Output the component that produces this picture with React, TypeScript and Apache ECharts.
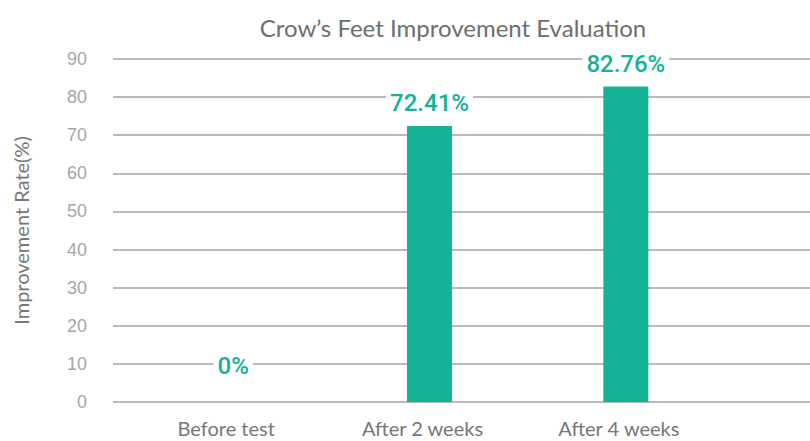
import React, { useEffect, useRef } from "react";
import * as echarts from "echarts";

const categories = ["Before test", "After 2 weeks", "After 4 weeks"];
const values = [0, 72.41, 82.76];
const labels = ["0%", "72.41%", "82.76%"];
const yTicks = [0, 10, 20, 30, 40, 50, 60, 70, 80, 90];

export default function App() {
  const ref = useRef<HTMLDivElement>(null);
  useEffect(() => {
    document.body.style.margin = "0";
    const chart = echarts.init(ref.current!, null, { renderer: "svg" });
    const green = "#14b396";
    chart.setOption({
      animation: false,
      backgroundColor: "#ffffff",
      title: {
        text: "Crow\u2019s Feet Improvement Evaluation",
        left: 448,
        textAlign: "center",
        top: 10,
        textStyle: { fontFamily: "Lato", fontSize: 24, fontWeight: "normal", color: "#6e6e6e" },
      },
      grid: [
        { left: 113, right: 0, top: 59, bottom: 39 },
        { left: 135, width: 589, top: 59, bottom: 39 },
      ],
      xAxis: [
        { gridIndex: 0, type: "value", show: false, min: 0, max: 1 },
        {
          gridIndex: 1,
          type: "category",
          data: categories,
          axisLine: { show: false },
          axisTick: { show: false },
          axisLabel: {
            margin: 16,
            fontFamily: "Lato",
            fontSize: 20,
            color: "#777777",
            padding: [0, 14, 0, 0],
          },
        },
      ],
      yAxis: [
        {
          gridIndex: 0,
          type: "value",
          min: yTicks[0],
          max: yTicks[yTicks.length - 1],
          interval: 10,
          name: "Improvement Rate(%)",
          nameLocation: "middle",
          nameGap: 82,
          nameRotate: 90,
          nameTextStyle: { fontFamily: "Lato", fontSize: 20, color: "#777777" },
          axisLine: { show: false },
          axisTick: { show: false },
          axisLabel: { margin: 26, fontFamily: "Liberation Sans", fontSize: 18, color: "#a6a6a6" },
          splitLine: { lineStyle: { color: "#a3a3a3", width: 1.5 } },
        },
        {
          gridIndex: 1,
          type: "value",
          min: yTicks[0],
          max: yTicks[yTicks.length - 1],
          interval: 10,
          show: false,
          splitLine: { show: false },
        },
      ],
      series: [
        {
          type: "bar",
          xAxisIndex: 1,
          yAxisIndex: 1,
          barWidth: 45,
          itemStyle: { color: green },
          data: values.map((v, i) => ({
            value: v,
            label: { formatter: labels[i], distance: v === 0 ? 24 : 11 },
          })),
          label: {
            show: true,
            position: "top",
            fontFamily: "Roboto",
            fontWeight: 500,
            fontSize: 24,
            lineHeight: 24,
            color: green,
            backgroundColor: "#ffffff",
            padding: [0, 4],
          },
        },
      ],
    });
    return () => chart.dispose();
  }, []);
  return <div ref={ref} style={{ width: 810, height: 441 }} />;
}
